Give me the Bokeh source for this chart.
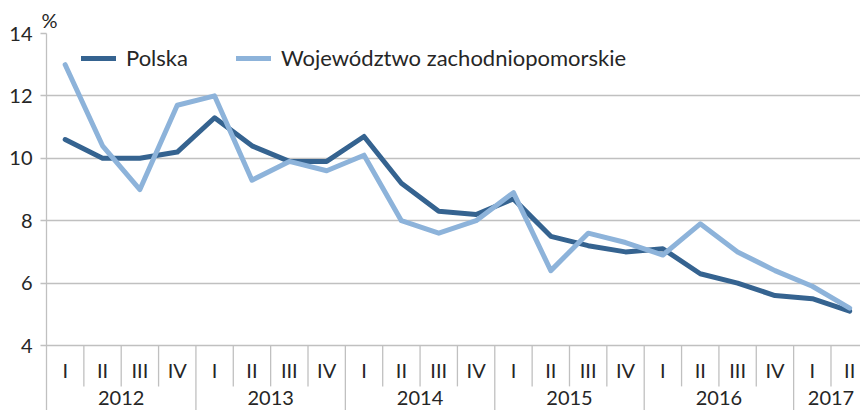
from bokeh.plotting import figure
from bokeh.models import Range1d, FixedTicker, Legend, LegendItem, Title, ColumnDataSource
from bokeh.core.properties import value
from bokeh.embed import file_html
from bokeh.resources import INLINE

# ---- data ----
years = ["2012", "2013", "2014", "2015", "2016", "2017"]
quarters_in_year = [4, 4, 4, 4, 4, 2]
quarter_names = ["I", "II", "III", "IV"]
polska = [10.6, 10.0, 10.0, 10.2, 11.3, 10.4, 9.9, 9.9, 10.7, 9.2, 8.3, 8.2,
          8.7, 7.5, 7.2, 7.0, 7.1, 6.3, 6.0, 5.6, 5.5, 5.1]
zachodniopomorskie = [13.0, 10.4, 9.0, 11.7, 12.0, 9.3, 9.9, 9.6, 10.1, 8.0, 7.6, 8.0,
                      8.9, 6.4, 7.6, 7.3, 6.9, 7.9, 7.0, 6.4, 5.9, 5.2]
series_names = ["Polska", "Województwo zachodniopomorskie"]
y_ticks = [4, 6, 8, 10, 12, 14]
unit_label = "%"

# ---- derived ----
quarter_labels = [quarter_names[i] for n in quarters_in_year for i in range(n)]
x = list(range(len(quarter_labels)))

FONT = "Lato"
TXT = "#262626"
GRID = "#c0c0c0"
DARK = "#356390"
LIGHT = "#8db3da"

Y_MIN_AXIS = y_ticks[0]
Y_BOTTOM = 1.917
Q_LABEL_Y = 3.2
Q_SEP_END = 2.69
YEAR_LABEL_Y = 2.32

p = figure(width=860, height=410, output_backend="svg", toolbar_location=None,
           x_range=Range1d(-0.5, 21.29), y_range=Range1d(Y_BOTTOM, y_ticks[-1]),
           x_axis_location=None,
           min_border_left=46, min_border_top=33, min_border_right=0, min_border_bottom=0)
p.outline_line_color = None
p.xgrid.visible = False
p.ygrid.ticker = FixedTicker(ticks=y_ticks)
p.ygrid.grid_line_color = GRID
p.ygrid.grid_line_width = 1.3

ax = p.yaxis[0]
ax.ticker = FixedTicker(ticks=y_ticks)
ax.axis_line_color = GRID
ax.axis_line_width = 1.3
ax.major_tick_line_color = GRID
ax.major_tick_line_width = 1.3
ax.major_tick_out = 6
ax.major_tick_in = 0
ax.minor_tick_line_color = None
ax.major_label_text_font = FONT
ax.major_label_text_font_size = "20px"
ax.major_label_text_color = TXT
ax.major_label_standoff = 8

# separators in the category area
bounds = []
c = 0
for n in quarters_in_year:
    c += n
    bounds.append(c)
year_bounds = set(bounds)
q_sep_x = [k - 0.5 for k in range(1, len(x)) if k not in year_bounds]
y_sep_x = [k - 0.5 for k in bounds if k < len(x)]
p.segment(x0=q_sep_x, y0=[Y_MIN_AXIS] * len(q_sep_x), x1=q_sep_x, y1=[Q_SEP_END] * len(q_sep_x),
          line_color=GRID, line_width=1.3)
p.segment(x0=y_sep_x, y0=[Y_MIN_AXIS] * len(y_sep_x), x1=y_sep_x, y1=[Y_BOTTOM] * len(y_sep_x),
          line_color=GRID, line_width=1.3)

# category labels
p.text(x=x, y=[Q_LABEL_Y] * len(x), text=quarter_labels, text_align="center",
       text_baseline="middle", text_font=value(FONT), text_font_size="20px", text_color=TXT)
starts = [0] + bounds[:-1]
year_x = [(s + e - 1) / 2 for s, e in zip(starts, bounds)]
p.text(x=year_x, y=[YEAR_LABEL_Y] * len(year_x), text=years, text_align="center",
       text_baseline="middle", text_font=value(FONT), text_font_size="20px", text_color=TXT)

# series
src = ColumnDataSource(dict(x=x, polska=polska, woj=zachodniopomorskie))
r1 = p.line("x", "polska", source=src, line_color=DARK, line_width=5, line_cap="round", line_join="round")
r2 = p.line("x", "woj", source=src, line_color=LIGHT, line_width=5, line_cap="round", line_join="round")

legend = Legend(items=[LegendItem(label=series_names[0], renderers=[r1]),
                       LegendItem(label=series_names[1], renderers=[r2])],
                orientation="horizontal", location=(35, 339), spacing=48,
                glyph_width=35, glyph_height=24, label_height=24, label_standoff=10,
                padding=0, margin=0, border_line_color=None, background_fill_alpha=0,
                label_text_font=FONT, label_text_font_size="22px", label_text_color=TXT)
p.add_layout(legend, "center")

p.add_layout(Title(text=unit_label, align="left", offset=-5, standoff=3,
                   text_font=FONT, text_font_size="20px", text_color=TXT,
                   text_font_style="normal"), "above")

open("out.html", "w").write(file_html(p, INLINE))
